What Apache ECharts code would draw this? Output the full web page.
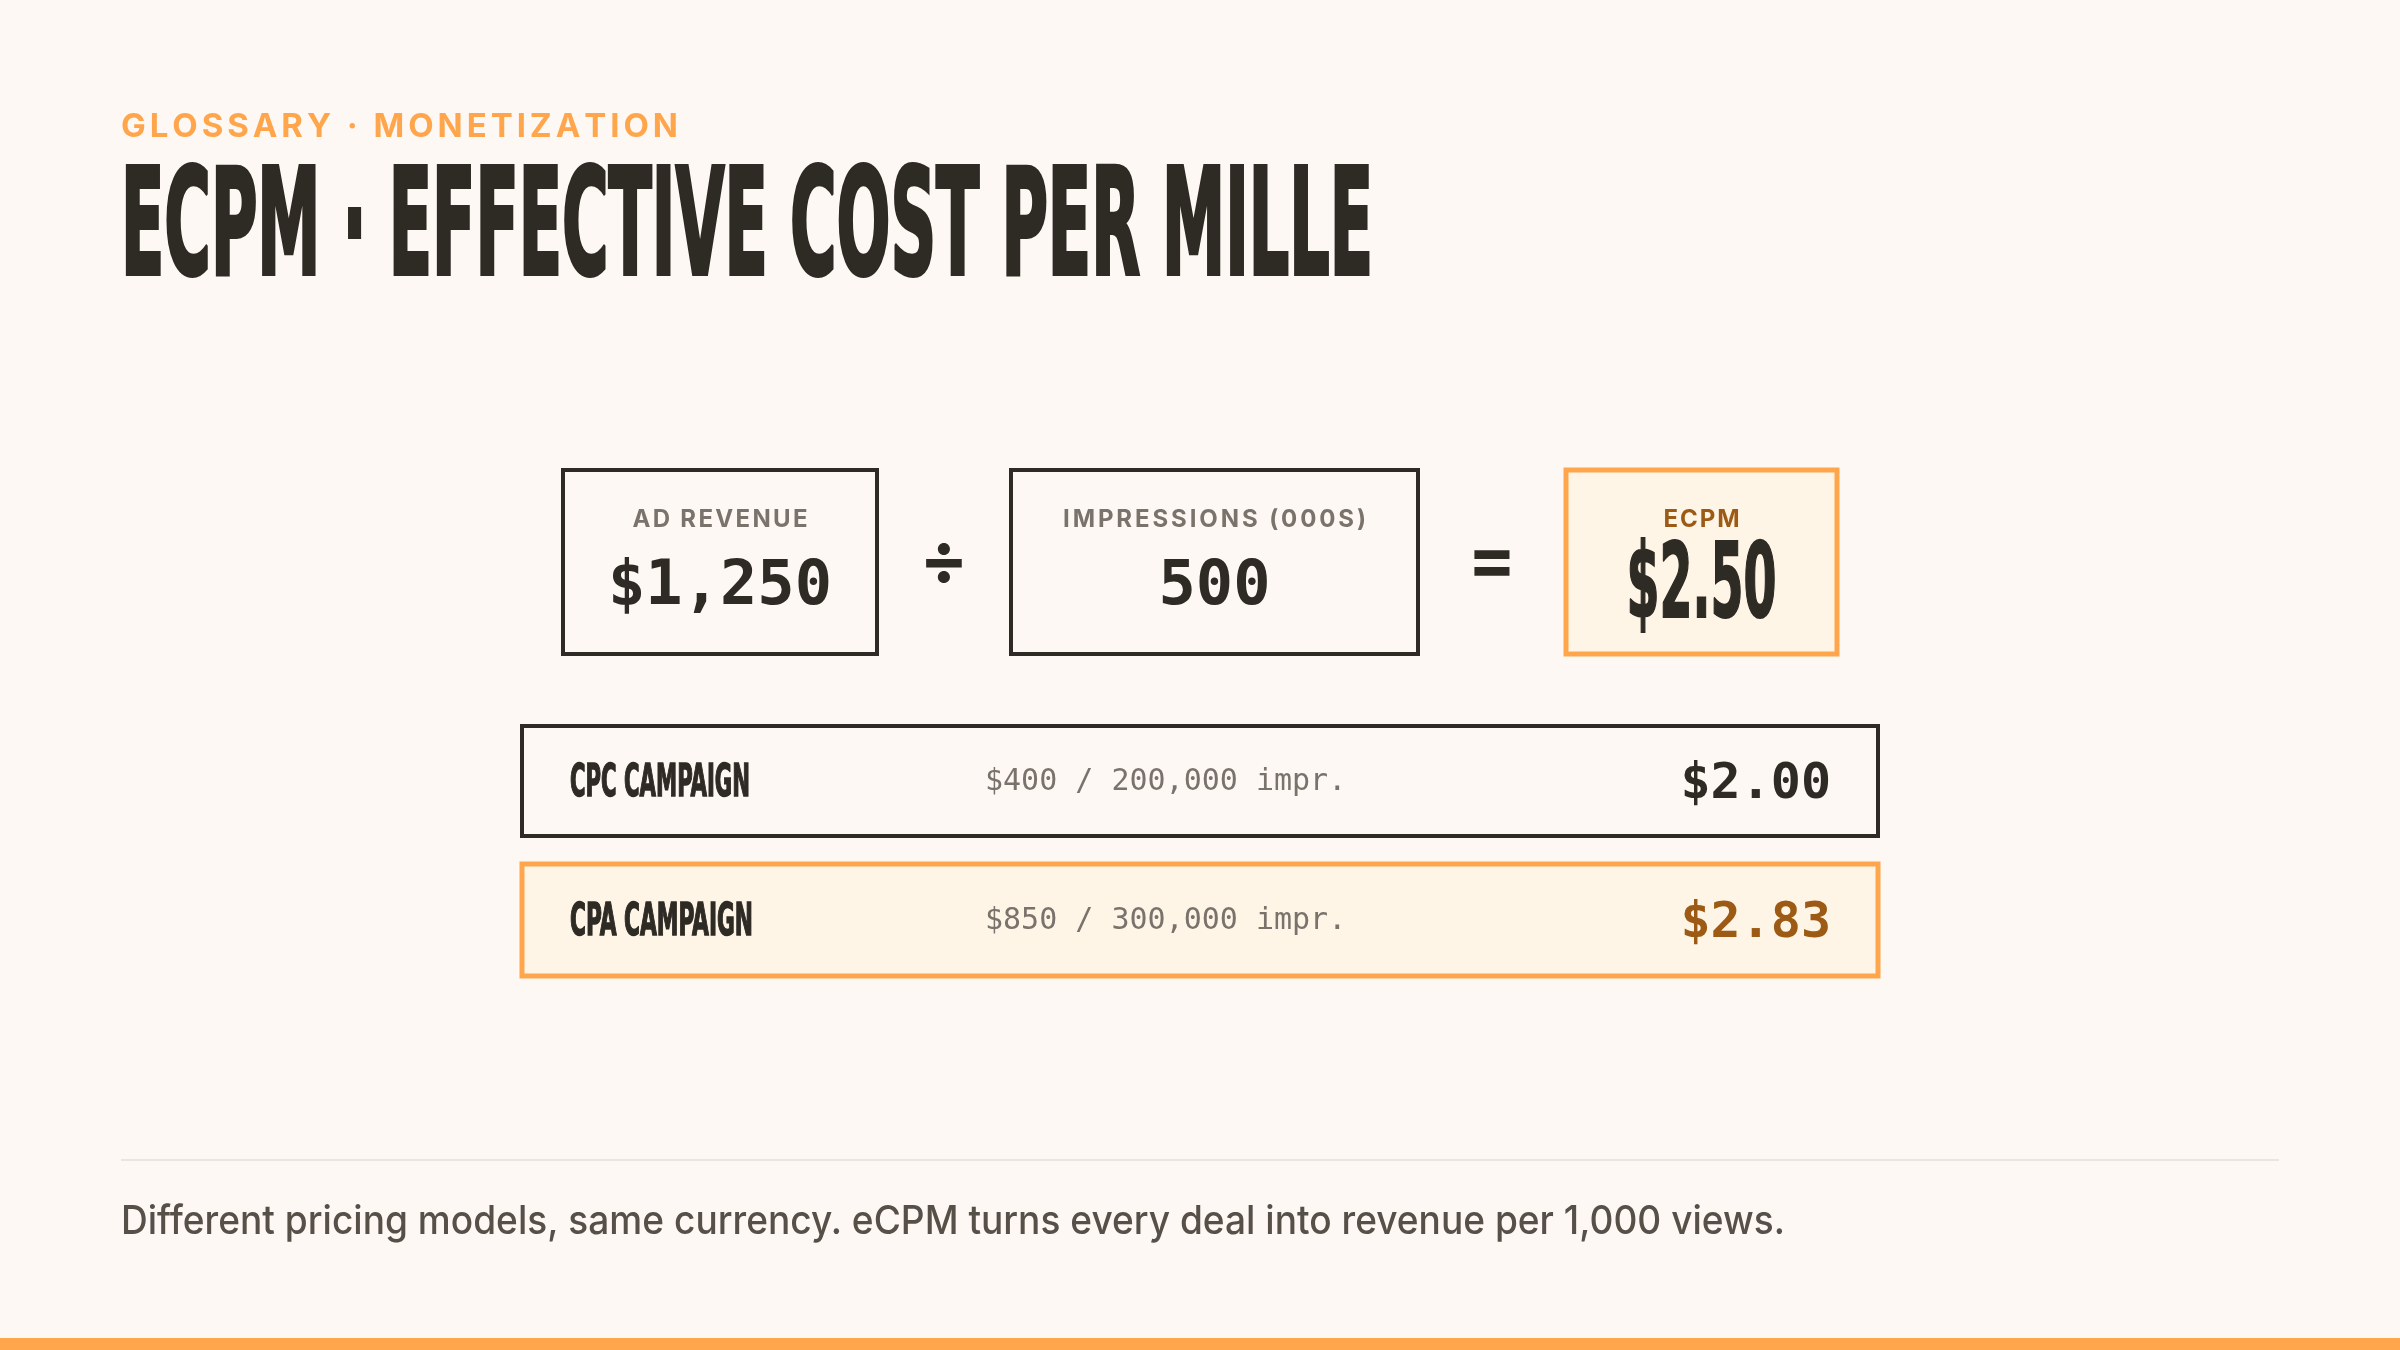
<!DOCTYPE html>
<html>
<head>
<meta charset="utf-8">
<title>eCPM</title>
<script src="https://cdn.jsdelivr.net/npm/echarts@6/dist/echarts.min.js"></script>
<style>
  html, body { margin: 0; padding: 0; background: #fdf8f3; }
  #main { width: 2400px; height: 1350px; }
</style>
</head>
<body>
<div id="main"></div>
<script>
// data
const kicker = 'GLOSSARY · MONETIZATION';
const title = 'ECPM · EFFECTIVE COST PER MILLE';
const termLabels = ['AD REVENUE', 'IMPRESSIONS (000S)', 'ECPM'];
const termValues = ['$1,250', '500', '$2.50'];
const operators = ['÷', '='];
const campaignNames = ['CPC CAMPAIGN', 'CPA CAMPAIGN'];
const campaignSpend = ['$400', '$850'];
const campaignImpr = ['200,000', '300,000'];
const campaignEcpm = ['$2.00', '$2.83'];
const footnote = 'Different pricing models, same currency. eCPM turns every deal into revenue per 1,000 views.';

const INK = '#2e2a24', ORANGE = '#ffa64d', BROWN = '#9c5a14', GREY = '#7a736c', CREAM = '#fef5e7';
const COND = '"DejaVu Sans Condensed", "DejaVu Sans"';
const MONO = '"DejaVu Sans Mono", monospace';
const SANS = 'Inter, "Noto Sans", sans-serif';

const ctx = document.createElement('canvas').getContext('2d');
function measure(str, font) {
    ctx.font = font;
    return ctx.measureText(str).width;
}

function label(str, x, y, font, fill, align) {
    return {
        type: 'text', x: x, y: y,
        style: { text: str, font: font, fill: fill, textAlign: align || 'left', textVerticalAlign: 'middle' }
    };
}

// heavy condensed look: bold condensed face squeezed to the width seen in the picture
function squeezed(str, x, y, size, width, fill, align, weight) {
    const font = 'bold ' + size + 'px ' + COND;
    let el = label(str, x, y, font, fill, align);
    el.scaleX = width / measure(str, font);
    if (weight) {
        el.style.stroke = fill;
        el.style.lineWidth = weight;
    }
    return el;
}

// letter-spaced caps, one glyph at a time
function spaced(str, x, y, font, fill, width, align) {
    const chars = str.split('');
    const natural = chars.reduce((s, c) => s + measure(c, font), 0);
    const gap = (width - natural) / (chars.length - 1);
    let cx = align === 'center' ? x - width / 2 : x;
    const children = chars.map(c => {
        const el = label(c, cx, y, font, fill, 'left');
        cx += measure(c, font) + gap;
        return el;
    });
    return { type: 'group', children: children };
}

// layout
const boxX = [563, 1011, 1566], boxW = [314, 407, 271];
const boxY = 470, boxH = 184;
const opX = [944, 1492];
const rowX = 522, rowW = 1356, rowY = [726, 864], rowH = [110, 112];

let g = [];

g.push(spaced(kicker, 121, 127, 'bold 33px ' + SANS, ORANGE, 557, 'left'));
g.push(squeezed(title, 121, 236, 148, 1252, INK, 'left', 4));

// formula boxes
termLabels.forEach((t, i) => {
    const last = i === termLabels.length - 1;
    const cx = boxX[i] + boxW[i] / 2;
    g.push({
        type: 'rect',
        shape: { x: boxX[i], y: boxY, width: boxW[i], height: boxH },
        style: { fill: last ? CREAM : 'transparent', stroke: last ? ORANGE : INK, lineWidth: last ? 5 : 4 }
    });
    const lw = [175, 303, 76][i];
    g.push(spaced(t, cx, 520, 'bold 24px ' + SANS, last ? BROWN : GREY, lw, 'center'));
    if (last) {
        g.push(squeezed(termValues[i], cx, 590, 103, 150, INK, 'center', 2));
    } else {
        g.push(label(termValues[i], cx, 588, 'bold 62px ' + MONO, INK, 'center'));
    }
});
operators.forEach((op, i) => {
    g.push(label(op, opX[i], 562, 'bold 72px ' + SANS, INK, 'center'));
});

// campaign rows
campaignNames.forEach((name, i) => {
    const hi = i === 1;
    const cy = rowY[i] + rowH[i] / 2;
    g.push({
        type: 'rect',
        shape: { x: rowX, y: rowY[i], width: rowW, height: rowH[i] },
        style: { fill: hi ? CREAM : 'transparent', stroke: hi ? ORANGE : INK, lineWidth: hi ? 5 : 4 }
    });
    g.push(squeezed(name, 570, cy + 3, 45, hi ? 183 : 180, INK, 'left', 1.5));
    g.push(label(campaignSpend[i] + ' / ' + campaignImpr[i] + ' impr.', 985, cy + 1, '30px ' + MONO, GREY, 'left'));
    g.push(label(campaignEcpm[i], 1831, cy + 4, 'bold 50px ' + MONO, hi ? BROWN : INK, 'right'));
});

// footer
g.push({ type: 'rect', shape: { x: 121, y: 1159, width: 2158, height: 2 }, style: { fill: '#ebe5de' } });
const footFont = 500 + ' 40px ' + SANS;
let foot = label(footnote, 121, 1222, footFont, '#575049', 'left');
foot.scaleX = 1664 / measure(footnote, footFont);
g.push(foot);
g.push({ type: 'rect', shape: { x: 0, y: 1338, width: 2400, height: 12 }, style: { fill: ORANGE } });

let myChart = echarts.init(document.getElementById('main'));
myChart.setOption({
    backgroundColor: '#fdf8f3',
    animation: false,
    graphic: { elements: g }
});
</script>
</body>
</html>
